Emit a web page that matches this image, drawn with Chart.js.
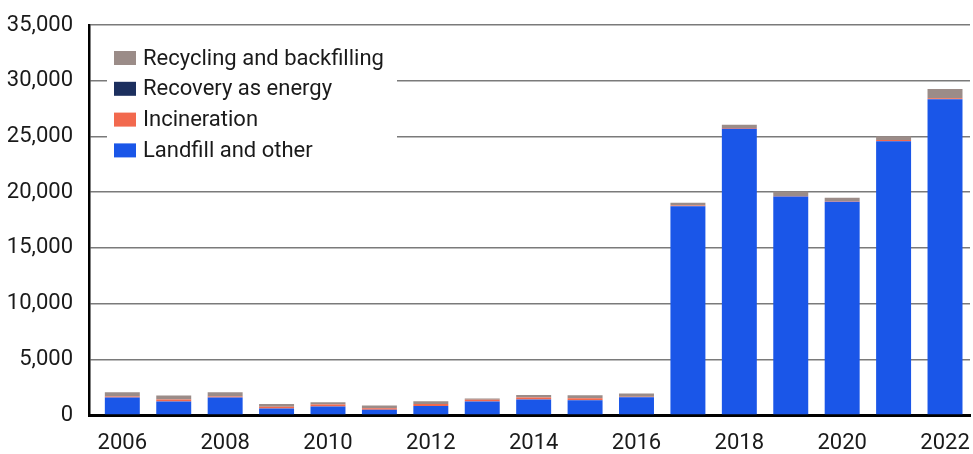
<!DOCTYPE html>
<html>
<head>
<meta charset="utf-8">
<script src="https://cdn.jsdelivr.net/npm/chart.js@4.4.1/dist/chart.umd.min.js"></script>
<style>
  html, body { margin: 0; padding: 0; background: #fff; }
  #wrap { position: relative; width: 973px; height: 454px; }
</style>
</head>
<body>
<div id="wrap"><canvas id="waste"></canvas></div>
<script>
/* waste treatment, stacked bars 2006-2022 */

var years = [2006, 2007, 2008, 2009, 2010, 2011, 2012, 2013, 2014, 2015, 2016, 2017, 2018, 2019, 2020, 2021, 2022];
var landfill = [1575, 1215, 1575, 585, 765, 470, 810, 1215, 1395, 1330, 1600, 18740, 25690, 19610, 19130, 24560, 28330];
var incineration = [80, 180, 90, 150, 180, 140, 180, 150, 180, 180, 30, 60, 60, 50, 60, 120, 90];
var recovery = [0, 0, 0, 0, 0, 0, 0, 0, 0, 0, 0, 0, 0, 0, 0, 0, 0];
var recycling = [390, 360, 385, 250, 210, 240, 240, 120, 210, 270, 300, 240, 300, 400, 300, 330, 845];
var yearTicks = [2006, 2008, 2010, 2012, 2014, 2016, 2018, 2020, 2022];

var FONT = "'Roboto', sans-serif";
Chart.defaults.font.family = FONT;
Chart.defaults.color = '#1a1a1a';

function pts(arr) {
  return years.map(function(y, i) { return {x: y, y: arr[i]}; });
}

function ds(label, arr, color) {
  return {label: label, data: pts(arr), backgroundColor: color, borderWidth: 0,
    categoryPercentage: 1, barPercentage: 0.68};
}

// legend drawn inside the plot, on a white patch that hides the grid
var insideLegend = {
  id: 'insideLegend',
  afterDatasetsDraw: function(chart) {
    var ctx = chart.ctx, a = chart.chartArea;
    var x0 = a.left + 18, y0 = a.top + 16;
    ctx.save();
    ctx.fillStyle = '#fff';
    ctx.fillRect(x0, y0, 290, 126);
    ctx.font = '22px ' + FONT;
    ctx.textBaseline = 'middle';
    var items = chart.data.datasets.slice().reverse();
    items.forEach(function(d, i) {
      var cy = y0 + 17 + i * 30.8;
      ctx.fillStyle = d.backgroundColor;
      ctx.fillRect(x0 + 7, cy - 7, 22, 14);
      ctx.fillStyle = '#1a1a1a';
      ctx.fillText(d.label, x0 + 36, cy + 1);
    });
    ctx.restore();
  }
};

new Chart(document.getElementById('waste'), {
  type: 'bar',
  data: {datasets: [
    ds('Landfill and other', landfill, '#1a56e8'),
    ds('Incineration', incineration, '#f2694e'),
    ds('Recovery as energy', recovery, '#1c2f5e'),
    ds('Recycling and backfilling', recycling, '#9b8c88')
  ]},
  options: {
    responsive: true, maintainAspectRatio: false, animation: false,
    layout: {padding: {left: 0, right: 3, top: 25, bottom: 0}},
    plugins: {legend: {display: false}, tooltip: {enabled: false}},
    scales: {
      x: {
        type: 'linear', stacked: true, offset: false, min: 2005.352, max: 2022.486,
        grid: {display: false, drawTicks: false, offset: false},
        border: {display: true, color: '#000', width: 3},
        afterBuildTicks: function(s) { s.ticks = yearTicks.map(function(v) { return {value: v}; }); },
        afterFit: function(s) { s.height = 39; s.paddingLeft = 0; s.paddingRight = 0; },
        ticks: {autoSkip: false, maxRotation: 0, padding: 15, font: {size: 22},
          callback: function(v) { return String(v); }}
      },
      y: {
        stacked: true, min: 0, max: 35000,
        grid: {color: '#7a7a7a', lineWidth: 1.5, drawTicks: false},
        border: {display: true, color: '#000', width: 2.5},
        afterFit: function(s) { s.width = 89; s.paddingTop = 0; s.paddingBottom = 0; },
        ticks: {stepSize: 5000, padding: 16, font: {size: 22},
          callback: function(v) { return v.toLocaleString('en-US'); }}
      }
    }
  },
  plugins: [insideLegend]
});
</script>
</body>
</html>
